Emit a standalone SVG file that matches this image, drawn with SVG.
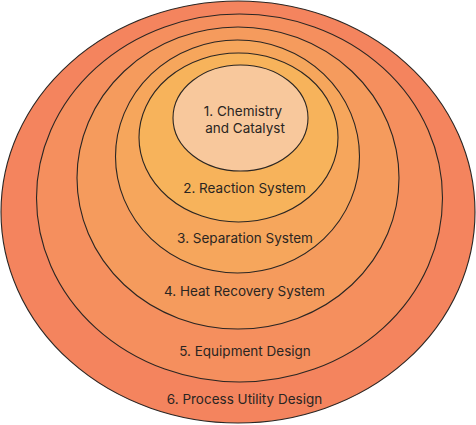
<svg xmlns="http://www.w3.org/2000/svg" width="476" height="425" viewBox="0 0 476 425">
  <style>
    .ring { stroke: #2b2623; stroke-width: 1.1; }
    .lbl { font-family: Inter, "Noto Sans", "Liberation Sans", sans-serif; font-size: 13.5px; fill: #2a2522; text-anchor: middle; }
  </style>
  <rect width="476" height="425" fill="#ffffff"/>
  <g id="n6">
    <ellipse class="ring" cx="238" cy="212" rx="237" ry="211" fill="#F4845E"/>
  </g>
  <g id="n5">
    <ellipse class="ring" cx="239.5" cy="198" rx="203" ry="184" fill="#F58F5E"/>
  </g>
  <g id="n4">
    <ellipse class="ring" cx="238" cy="178" rx="161" ry="151" fill="#F59B5D"/>
  </g>
  <g id="n3">
    <ellipse class="ring" cx="237.5" cy="156.5" rx="122" ry="116.5" fill="#F6A65C"/>
  </g>
  <g id="n2">
    <ellipse class="ring" cx="238.5" cy="137.5" rx="99.5" ry="84.5" fill="#F7B35B"/>
  </g>
  <g id="n1">
    <ellipse class="ring" cx="240.5" cy="118" rx="67.5" ry="53" fill="#F8C89C"/>
  </g>
  <g id="labels">
    <text class="lbl" x="243" y="116">1. Chemistry</text>
    <text class="lbl" x="245" y="133">and Catalyst</text>
    <text class="lbl" x="244.5" y="193">2. Reaction System</text>
    <text class="lbl" x="245" y="243">3. Separation System</text>
    <text class="lbl" x="244.5" y="296">4. Heat Recovery System</text>
    <text class="lbl" x="245" y="356">5. Equipment Design</text>
    <text class="lbl" x="244.5" y="404">6. Process Utility Design</text>
  </g>
  <g id="connectors"></g>
</svg>
